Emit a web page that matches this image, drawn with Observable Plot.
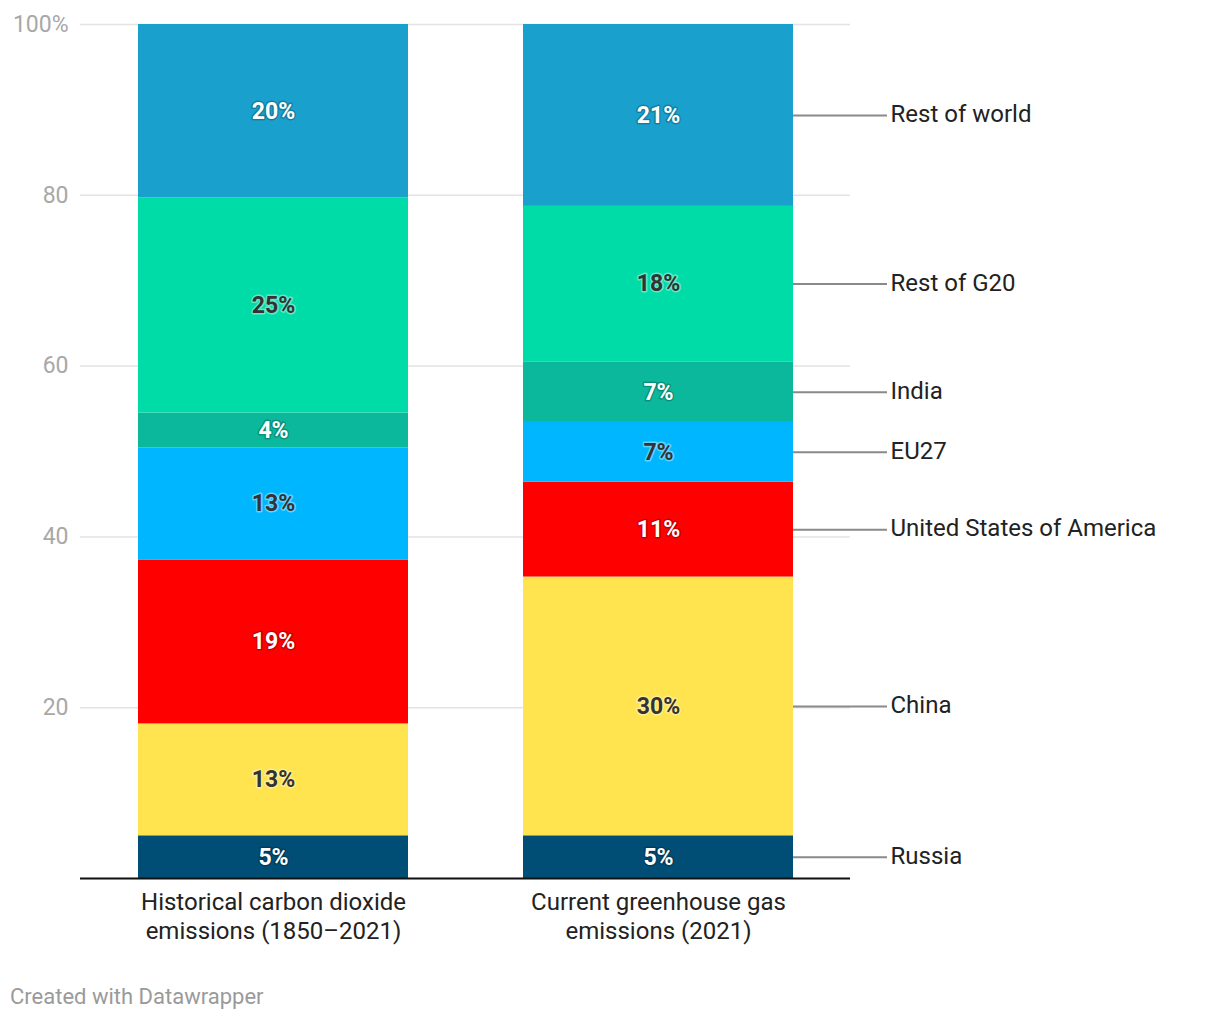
<!DOCTYPE html>
<html>
<head>
<meta charset="utf-8">
<script src="https://cdn.jsdelivr.net/npm/d3@7"></script>
<script src="https://cdn.jsdelivr.net/npm/@observablehq/plot@0.6"></script>
<style>
  body { margin: 0; background: #fff; font-family: Roboto, sans-serif; }
  #chart svg { display: block; }
  .caption { font-family: Roboto, sans-serif; font-size: 22px; color: #9a9a9a; margin: 24px 0 0 10px; }
</style>
</head>
<body>
<div id="chart"></div>
<div class="caption">Created with Datawrapper</div>
<script>
const categories = ["Historical carbon dioxide emissions (1850–2021)", "Current greenhouse gas emissions (2021)"];
const categoryLabels = ["Historical carbon dioxide\nemissions (1850–2021)", "Current greenhouse gas\nemissions (2021)"];
const regions = ["Russia", "China", "United States of America", "EU27", "India", "Rest of G20", "Rest of world"];
const historical = [5.0, 13.1, 19.2, 13.1, 4.1, 25.2, 20.3];
const current = [5.0, 30.3, 11.1, 7.0, 7.1, 18.2, 21.3];
const regionColors = ["#004e75", "#ffe34f", "#ff0000", "#00b7ff", "#0bb89b", "#00dca8", "#19a0cd"];
const darkLabelRegions = ["China", "EU27", "Rest of G20"];
const yTicks = [0, 20, 40, 60, 80, 100];

const data = [];
[historical, current].forEach((vals, ci) => {
  regions.forEach((r, ri) => data.push({cat: categories[ci], region: r, value: vals[ri]}));
});
const isDark = d => darkLabelRegions.includes(d.region);
const isCurrent = d => d.cat === categories[1];
const fmt = d => Math.round(d.value) + "%";
const stacked = extra => Plot.stackY({x: "cat", y: "value", z: "region", ...extra});

const chart = Plot.plot({
  width: 1220,
  height: 960,
  marginLeft: 80,
  marginRight: 370,
  marginTop: 24,
  marginBottom: 82,
  style: {fontFamily: "Roboto, sans-serif", background: "#fff"},
  x: {domain: categories, paddingInner: 0.3, paddingOuter: 0.15, label: null},
  y: {domain: [0, 100], label: null},
  color: {domain: regions, range: regionColors},
  marks: [
    Plot.gridY(yTicks, {stroke: "#e3e3e3", strokeOpacity: 1, strokeWidth: 1.5}),
    Plot.barY(data, {x: "cat", y: "value", fill: "region", z: "region"}),
    Plot.text(data, Plot.filter(d => !isDark(d), stacked({text: fmt,
      fill: "#fff", stroke: "#000", strokeOpacity: 0.22, strokeWidth: 3, fontWeight: "bold", fontSize: 23}))),
    Plot.text(data, Plot.filter(isDark, stacked({text: fmt,
      fill: "#333", stroke: "#fff", strokeOpacity: 0.4, strokeWidth: 3, fontWeight: "bold", fontSize: 23}))),
    Plot.tickY(data, Plot.filter(isCurrent, stacked({
      dx: 270, insetRight: 176, stroke: "#8a8a8a", strokeWidth: 2}))),
    Plot.text(data, Plot.filter(isCurrent, stacked({text: "region",
      textAnchor: "start", dx: 232, dy: -1, fontSize: 24, fill: "#222"}))),
    Plot.ruleY([0], {stroke: "#111", strokeWidth: 2}),
    Plot.axisY(yTicks, {tickSize: 0, tickPadding: 12, fontSize: 23, fill: "#a8a8a8",
      tickFormat: d => d === 100 ? "100%" : d === 0 ? "" : String(d), label: null}),
    Plot.axisX({tickSize: 0, tickPadding: 12, fontSize: 24, fill: "#222", lineHeight: 1.17,
      tickFormat: d => categoryLabels[categories.indexOf(d)], label: null})
  ]
});
document.getElementById("chart").appendChild(chart);
</script>
</body>
</html>
